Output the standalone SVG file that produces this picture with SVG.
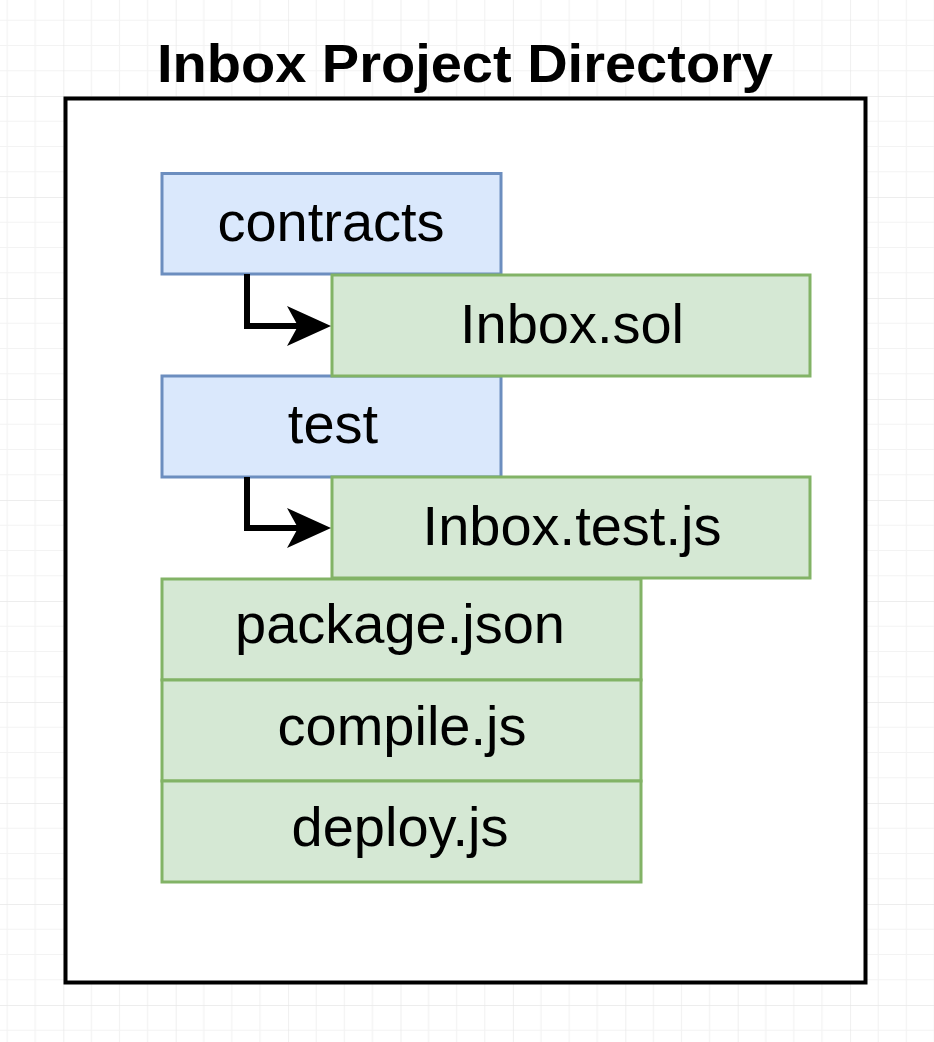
<svg xmlns="http://www.w3.org/2000/svg" width="934" height="1042" viewBox="0 0 934 1042">
  <defs>
    <pattern id="grid" patternUnits="userSpaceOnUse" x="63.3" y="96" width="112.4" height="101">
      <path d="M28.1,0 V101 M56.2,0 V101 M84.3,0 V101 M0,25.25 H112.4 M0,50.5 H112.4 M0,75.75 H112.4" stroke="#f3f3f3" stroke-width="1.2" fill="none"/>
      <path d="M0,0 V101 M0,0 H112.4" stroke="#e8e8e8" stroke-width="1.4" fill="none"/>
    </pattern>
    <marker id="arrow" markerUnits="userSpaceOnUse" viewBox="0 0 44 40" markerWidth="44" markerHeight="40" refX="11" refY="20" orient="auto">
      <path d="M0,0 L44,20 L0,40 L11,20 Z" fill="#000"/>
    </marker>
  </defs>
  <style>
    .folder { fill: #dae8fc; stroke: #6c8ebf; stroke-width: 3; }
    .file { fill: #d5e8d4; stroke: #82b366; stroke-width: 3; }
    .label { font-family: "Liberation Sans", Arial, sans-serif; font-size: 56px; fill: #000; text-anchor: middle; }
    .title { font-family: "Liberation Sans", Arial, sans-serif; font-size: 53px; font-weight: bold; fill: #000; text-anchor: middle; }
    .conn { fill: none; stroke: #000; stroke-width: 6; stroke-linejoin: miter; }
  </style>

  <rect x="0" y="0" width="934" height="1042" fill="#ffffff"/>
  <rect x="0" y="0" width="934" height="1042" fill="url(#grid)"/>

  <g id="container">
    <rect x="65.5" y="98.5" width="800" height="884" fill="#ffffff" stroke="#000" stroke-width="4"/>
    <text class="title" x="465" y="82" textLength="616" lengthAdjust="spacingAndGlyphs">Inbox Project Directory</text>
  </g>

  <g id="contracts">
    <rect class="folder" x="162" y="173.5" width="339" height="100.5"/>
    <text class="label" x="331" y="241">contracts</text>
  </g>

  <g id="test">
    <rect class="folder" x="162" y="376" width="339" height="101"/>
    <text class="label" x="333" y="443">test</text>
  </g>

  <g id="inbox-sol">
    <rect class="file" x="332" y="275" width="478" height="101"/>
    <text class="label" x="572" y="343">Inbox.sol</text>
  </g>

  <g id="inbox-test-js">
    <rect class="file" x="332" y="477" width="478" height="101"/>
    <text class="label" x="572" y="545">Inbox.test.js</text>
  </g>

  <g id="package-json">
    <rect class="file" x="162" y="579" width="479" height="101"/>
    <text class="label" x="400" y="643">package.json</text>
  </g>

  <g id="compile-js">
    <rect class="file" x="162" y="680" width="479" height="101"/>
    <text class="label" x="402" y="745">compile.js</text>
  </g>

  <g id="deploy-js">
    <rect class="file" x="162" y="781" width="479" height="101"/>
    <text class="label" x="400" y="846">deploy.js</text>
  </g>

  <g id="connectors">
    <path class="conn" d="M247,274 V326 H298" marker-end="url(#arrow)"/>
    <path class="conn" d="M247,477 V528 H298" marker-end="url(#arrow)"/>
  </g>
</svg>
